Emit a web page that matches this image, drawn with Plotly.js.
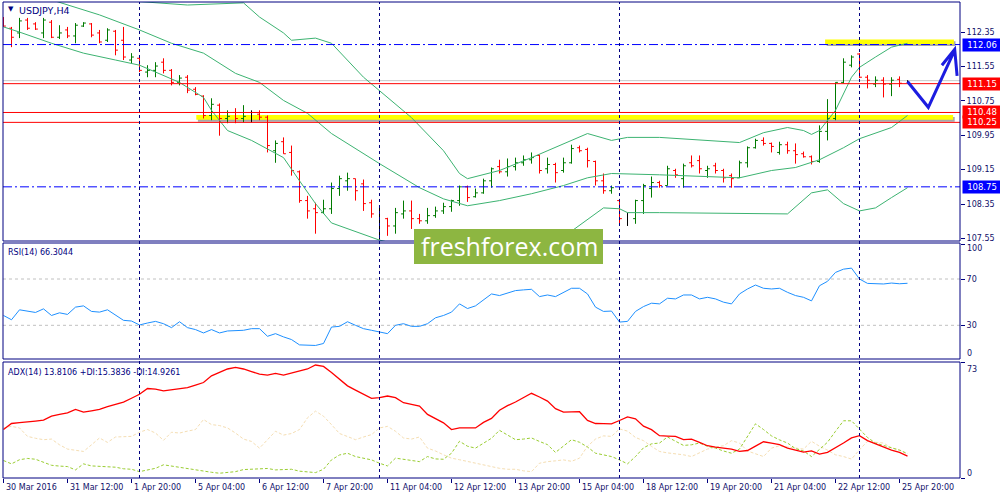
<!DOCTYPE html>
<html><head><meta charset="utf-8">
<script src="https://cdn.plot.ly/plotly-3.0.1.min.js"></script>
<style>html,body{margin:0;padding:0;background:#fff}#chart{width:1000px;height:500px}</style>
</head><body><div id="chart"></div>
<script>
// ---------- data ----------
const symbolTitle = 'USDJPY,H4';
const rsiTitle = 'RSI(14) 66.3044';
const adxTitle = 'ADX(14) 13.8106 +DI:15.3836 -DI:14.9261';
const timeLabels = ['30 Mar 2016','31 Mar 12:00','1 Apr 20:00','5 Apr 04:00','6 Apr 12:00','7 Apr 20:00','11 Apr 04:00','12 Apr 12:00','13 Apr 20:00','15 Apr 04:00','18 Apr 12:00','19 Apr 20:00','21 Apr 04:00','22 Apr 12:00','25 Apr 20:00'];
const timeLabelBars = [0,8,16,24,32,40,48,56,64,72,80,88,96,104,112];
const weekSeparatorBars = [17,47,77,107];

const openP = [112.68,112.44,112.33,112.63,112.54,112.33,112.58,112.23,112.40,112.26,
112.49,112.54,112.33,112.16,112.37,112.16,111.70,111.74,111.42,111.46,
111.65,111.46,111.18,111.30,111.02,110.86,110.41,110.65,110.34,110.48,
110.34,110.39,110.44,110.37,109.59,109.80,109.55,109.10,108.43,108.24,
108.15,108.24,108.71,108.89,108.94,108.82,108.38,108.01,108.01,107.84,
108.12,108.19,108.01,107.96,108.08,108.19,108.29,108.43,108.75,108.52,
108.61,108.89,109.22,109.10,109.22,109.31,109.38,109.48,109.17,109.27,
109.13,109.31,109.66,109.62,109.34,108.89,108.66,108.43,108.01,108.01,
108.43,108.71,108.85,108.78,109.13,108.94,109.31,109.36,109.13,109.24,
109.13,109.01,108.96,109.31,109.66,109.83,109.76,109.55,109.73,109.59,
109.52,109.45,109.34,110.04,110.34,111.18,111.58,111.84,111.30,111.14,
111.23,111.14,111.25,111.20];
const highP = [112.70,112.47,112.68,112.68,112.58,112.68,112.63,112.51,112.47,112.56,
112.58,112.56,112.40,112.44,112.40,112.47,111.86,111.81,111.58,111.65,
111.74,111.49,111.35,111.35,111.07,110.88,110.81,110.69,110.53,110.58,
110.65,110.53,110.53,110.41,109.83,109.90,109.71,109.13,108.54,108.38,
108.45,108.85,109.01,109.08,108.94,108.92,108.45,108.31,108.03,108.26,
108.43,108.43,108.12,108.26,108.29,108.38,108.45,108.78,108.78,108.71,
108.94,109.20,109.38,109.41,109.43,109.48,109.55,109.50,109.43,109.31,
109.43,109.73,109.71,109.66,109.36,109.06,108.78,108.47,108.15,108.45,
108.82,108.99,108.89,109.24,109.17,109.29,109.48,109.48,109.24,109.31,
109.17,109.06,109.36,109.69,109.87,109.90,109.78,109.80,109.80,109.76,
109.57,109.48,110.18,110.79,111.18,111.74,111.81,111.86,111.35,111.32,
111.30,111.30,111.32,111.23];
const lowP = [112.47,112.00,112.21,112.40,112.40,112.21,112.21,112.19,112.21,112.09,
112.47,112.23,112.09,112.12,111.81,111.70,111.63,111.42,111.30,111.30,
111.39,111.11,111.11,110.93,110.88,110.34,110.30,109.94,110.23,110.23,
110.25,110.25,110.30,109.55,109.31,109.52,109.01,108.38,108.01,107.66,
108.12,108.12,108.54,108.66,108.43,108.19,108.03,107.52,107.61,107.66,
108.01,107.77,107.89,107.89,108.03,108.12,108.17,108.31,108.40,108.50,
108.59,108.73,109.06,108.99,109.13,109.24,109.29,109.06,109.06,108.85,
109.08,109.29,109.55,109.20,108.78,108.59,108.59,107.89,107.84,107.89,
108.12,108.50,108.73,108.78,108.96,108.73,109.20,109.06,108.96,109.06,
108.85,108.73,108.96,109.20,109.64,109.71,109.55,109.50,109.52,109.29,
109.43,109.27,109.31,109.83,110.30,111.16,111.53,111.28,111.04,111.07,
110.83,110.86,111.07,111.18];
const closeP = [112.49,112.23,112.61,112.44,112.42,112.63,112.23,112.33,112.26,112.51,
112.56,112.28,112.12,112.40,111.93,111.77,111.77,111.46,111.46,111.56,
111.46,111.18,111.28,111.00,110.90,110.41,110.67,110.34,110.39,110.34,
110.39,110.39,110.37,109.71,109.76,109.52,109.13,108.43,108.19,108.15,
108.24,108.71,108.94,108.94,108.66,108.36,108.12,108.01,107.84,108.15,
108.19,108.01,107.96,108.08,108.19,108.29,108.43,108.75,108.50,108.61,
108.89,109.17,109.10,109.22,109.31,109.38,109.43,109.13,109.27,109.08,
109.31,109.64,109.59,109.36,108.89,108.66,108.73,108.01,108.01,108.43,
108.78,108.85,108.78,109.17,109.03,109.24,109.24,109.17,109.17,109.13,
108.96,108.94,109.31,109.66,109.83,109.76,109.69,109.73,109.59,109.50,
109.45,109.34,110.04,110.34,111.18,111.65,111.77,111.30,111.23,111.23,
111.14,111.23,111.16,111.20];

const bbUpperBars = [17,23,30,32,35,36,39,41,45,51,55,57,58,62,66,70,73,76,78,82,92,95,98,100,101,102,104,106,107,109,111,113];
const bbUpper = [113.06,112.98,113.03,112.70,112.33,112.16,112.21,112.09,111.30,110.36,109.59,109.06,108.94,109.13,109.43,109.76,109.99,109.83,109.90,109.90,109.78,110.01,110.13,110.06,109.97,110.06,110.53,111.30,111.53,111.77,112.00,112.09];
const bbMiddleBars = [6,12,17,21,25,29,32,35,38,41,47,52,55,58,62,66,70,73,76,82,92,96,99,102,105,107,111,113];
const bbMiddle = [113.10,112.75,112.40,112.09,111.86,111.39,111.18,110.76,110.46,109.99,109.29,108.73,108.47,108.31,108.43,108.59,108.78,108.96,109.06,109.03,108.96,109.13,109.20,109.38,109.66,109.87,110.13,110.41];
const bbLowerBars = [0,2,6,10,14,17,22,25,26,28,31,35,37,39,41,47,52,60,66,71,75,77,78,82,98,101,103,105,107,109,111,113];
const bbLower = [112.47,112.35,112.09,111.86,111.70,111.58,111.18,110.83,110.53,110.06,109.83,109.43,108.89,108.36,107.91,107.51,107.30,107.20,107.40,107.72,108.26,108.24,108.15,108.15,108.12,108.61,108.68,108.36,108.19,108.26,108.50,108.73];

const rsi = [38.5,34.8,43.4,42.3,41.1,44.2,38.5,40.8,39.4,45.7,
46.8,42.0,41.4,43.4,38.5,34.3,33.7,30.3,32.0,33.4,
31.4,28.0,33.1,28.0,26.3,23.4,26.3,23.4,25.1,25.7,
25.7,27.1,27.1,20.5,22.8,20.0,17.7,13.1,12.6,12.6,
14.3,28.5,29.1,33.1,30.0,27.1,25.7,24.0,22.8,30.0,
31.4,29.1,29.1,31.4,36.5,38.5,41.4,48.5,44.5,46.8,
51.9,57.1,55.7,57.7,60.0,60.6,61.1,54.8,56.2,54.8,
58.5,62.0,62.0,57.1,45.7,42.0,42.3,32.8,33.4,42.0,
46.2,49.1,48.5,53.4,52.8,56.2,56.2,52.8,54.2,52.8,
50.0,48.5,57.1,61.4,64.8,62.0,61.4,62.0,58.5,55.7,
54.2,51.1,64.2,68.0,75.7,78.5,79.4,70.0,66.2,65.7,
65.7,66.5,65.9,66.3];
const adx = [30.5,34.3,34.8,35.1,35.8,36.4,38.9,40.0,41.0,43.2,
41.5,42.3,43.2,44.9,46.3,47.8,50.2,52.7,56.3,55.9,
54.8,55.4,56.1,56.9,58.5,60.1,64.3,66.5,68.6,69.6,
68.6,67.0,65.4,64.7,65.8,64.7,66.0,67.3,68.6,71.1,
70.2,66.4,62.0,58.0,55.3,52.7,50.1,50.6,51.6,50.6,
47.4,46.3,45.3,40.0,37.2,34.7,30.5,31.5,31.5,31.5,
35.0,37.5,42.6,45.5,47.8,50.5,53.3,51.0,48.4,43.6,
41.5,41.6,41.7,36.2,34.3,34.2,34.1,36.2,38.5,37.2,
32.6,30.4,26.6,26.4,26.2,24.1,24.5,22.4,20.3,19.4,
18.9,18.2,16.7,17.3,20.1,22.8,22.0,21.0,18.8,17.5,
16.3,17.1,15.0,16.1,18.8,22.0,25.2,26.6,23.5,21.5,
19.9,17.5,16.1,13.8];
const plusDI = [11.0,8.9,11.5,12.3,11.8,9.7,8.0,7.5,7.2,5.1,
8.9,7.6,7.3,7.1,6.8,5.8,5.5,4.0,5.0,6.1,
8.3,7.5,6.8,5.8,5.1,4.0,3.6,3.0,3.5,4.0,
5.3,5.5,6.1,6.0,5.1,5.3,5.5,4.3,4.0,3.4,
5.5,11.4,14.5,15.6,13.5,12.5,11.4,9.3,7.6,12.5,
11.8,11.4,10.3,13.5,12.0,11.8,15.6,23.1,20.0,18.8,
22.0,25.0,30.0,27.0,24.1,24.5,25.2,23.0,21.0,16.1,
20.0,24.1,22.5,19.5,15.6,14.5,13.5,11.4,8.9,13.5,
19.0,21.5,22.0,25.8,23.1,20.5,20.9,22.0,19.9,18.8,
17.0,15.6,18.2,26.2,34.1,30.5,26.5,24.0,22.0,18.5,
17.0,13.5,18.0,22.5,29.4,36.0,36.0,30.5,25.5,22.0,
20.3,19.0,17.5,15.4];
const minusDI = [31.5,32.5,31.5,26.2,25.0,24.1,24.5,20.9,18.2,17.5,
16.7,20.9,25.2,22.4,25.8,26.0,26.2,28.8,30.5,28.3,
23.7,28.8,28.3,29.5,30.5,36.8,33.6,33.0,31.5,28.3,
24.5,23.0,18.8,24.1,29.4,27.0,28.0,30.5,37.9,42.1,
38.9,33.6,28.0,26.1,24.1,25.8,27.3,31.5,32.5,29.4,
25.2,24.5,25.8,18.8,17.0,14.6,12.5,11.5,10.4,9.5,
8.3,7.2,6.1,5.5,5.5,4.5,4.0,9.3,10.3,10.8,
11.4,10.5,12.5,20.0,24.5,26.5,26.2,30.9,29.5,25.5,
23.5,19.9,16.7,15.8,15.2,14.6,13.5,16.1,18.2,19.5,
20.3,23.5,22.0,17.0,15.0,13.5,18.8,20.3,19.5,19.0,
18.2,23.1,20.0,17.5,14.6,13.5,11.9,17.8,23.1,22.5,
22.0,19.0,17.8,14.9];

const priceTicks = [112.35,111.55,110.75,109.95,109.15,108.35,107.55];
const blueLevels = [112.06,108.75];
const redLevels = [111.15,110.48,110.25];
const bidLevel = 111.22;
const rsiLevels = [70,30];
const supportZone = [110.31,110.42];
const targetZone = [112.07,112.18];

// ---------- drawing ----------
const NAVY = '#000080';
const TXT = '#10106a';
const FONT = 'DejaVu Sans';
const PX0 = 3, PX1 = 960, PY0 = 2, PY1 = 478;
const px = v => (v - PX0) / (PX1 - PX0);
const py = v => (PY1 - v) / (PY1 - PY0);

const idx = openP.map((_, i) => i);
const colIdx = idx.filter(i => openP[i] !== closeP[i]);
const dojiIdx = idx.filter(i => openP[i] === closeP[i]);
let minGap = Infinity;
for (let k = 1; k < dojiIdx.length; k++) minGap = Math.min(minGap, dojiIdx[k] - dojiIdx[k-1]);
const pick = (arr, ids) => ids.map(i => arr[i]);

const traces = [
  {type:'scatter', mode:'lines', x:bbUpperBars, y:bbUpper, line:{color:'#3cb371', width:1}, hoverinfo:'skip', xaxis:'x', yaxis:'y'},
  {type:'scatter', mode:'lines', x:bbMiddleBars, y:bbMiddle, line:{color:'#3cb371', width:1}, hoverinfo:'skip', xaxis:'x', yaxis:'y'},
  {type:'scatter', mode:'lines', x:bbLowerBars, y:bbLower, line:{color:'#3cb371', width:1}, hoverinfo:'skip', xaxis:'x', yaxis:'y'},
  {type:'ohlc', x:colIdx, open:pick(openP,colIdx), high:pick(highP,colIdx), low:pick(lowP,colIdx), close:pick(closeP,colIdx),
   increasing:{line:{color:'#007a00', width:1}}, decreasing:{line:{color:'#ff0000', width:1}}, tickwidth:0.3, hoverinfo:'skip', xaxis:'x', yaxis:'y'},
  {type:'ohlc', x:dojiIdx, open:pick(openP,dojiIdx), high:pick(highP,dojiIdx), low:pick(lowP,dojiIdx), close:pick(closeP,dojiIdx),
   increasing:{line:{color:'#000000', width:1}}, decreasing:{line:{color:'#000000', width:1}}, tickwidth:Math.min(0.5, 0.3/minGap), hoverinfo:'skip', xaxis:'x', yaxis:'y'},
  {type:'scatter', mode:'lines', x:idx, y:rsi, line:{color:'#1e90ff', width:1}, hoverinfo:'skip', xaxis:'x', yaxis:'y2'},
  {type:'scatter', mode:'lines', x:idx, y:minusDI, line:{color:'#f5deb3', width:1, dash:'3px,2px'}, hoverinfo:'skip', xaxis:'x', yaxis:'y3'},
  {type:'scatter', mode:'lines', x:idx, y:plusDI, line:{color:'#9acd32', width:1, dash:'3px,2px'}, hoverinfo:'skip', xaxis:'x', yaxis:'y3'},
  {type:'scatter', mode:'lines', x:idx, y:adx, line:{color:'#ff0000', width:1.3}, hoverinfo:'skip', xaxis:'x', yaxis:'y3'}
];

const dMain = [py(241), 1], dRsi = [py(359), py(243)], dAdx = [0, py(362)];
const shapes = [];
// yellow zones with shadow
shapes.push({type:'rect', xref:'x', yref:'y', x0:24.3, x1:118.9, y0:supportZone[0]-0.045, y1:supportZone[1]-0.045, fillcolor:'#a8a8a8', line:{width:0}, layer:'below'});
shapes.push({type:'rect', xref:'x', yref:'y', x0:24.1, x1:118.7, y0:supportZone[0], y1:supportZone[1], fillcolor:'#ffff00', line:{width:0}, layer:'below'});
shapes.push({type:'rect', xref:'x', yref:'y', x0:102.9, x1:119.0, y0:targetZone[0]-0.045, y1:targetZone[1]-0.045, fillcolor:'#a8a8a8', line:{width:0}, layer:'below'});
shapes.push({type:'rect', xref:'x', yref:'y', x0:102.7, x1:118.8, y0:targetZone[0], y1:targetZone[1], fillcolor:'#ffff00', line:{width:0}, layer:'below'});
// bid line
shapes.push({type:'line', xref:'paper', yref:'y', x0:0, x1:1, y0:bidLevel, y1:bidLevel, line:{color:'#c8c8c8', width:1}, layer:'below'});
redLevels.forEach(v => shapes.push({type:'line', xref:'paper', yref:'y', x0:0, x1:1, y0:v, y1:v, line:{color:'#ff0000', width:1}, layer:'above'}));
blueLevels.forEach(v => shapes.push({type:'line', xref:'paper', yref:'y', x0:0, x1:1, y0:v, y1:v, line:{color:'#0000ff', width:1, dash:'9px,3px,2px,3px'}, layer:'above'}));
rsiLevels.forEach(v => shapes.push({type:'line', xref:'paper', yref:'y2', x0:0, x1:1, y0:v, y1:v, line:{color:'#c0c0c0', width:1, dash:'3px,3px'}, layer:'below'}));
weekSeparatorBars.forEach(b => shapes.push({type:'line', xref:'x', yref:'paper', x0:b, x1:b, y0:0, y1:1, line:{color:NAVY, width:1, dash:'3px,3px'}, layer:'above'}));
// panel frames
[dMain, dRsi, dAdx].forEach(d => shapes.push({type:'rect', xref:'paper', yref:'paper', x0:0, x1:1, y0:d[0], y1:d[1], line:{color:NAVY, width:1}, fillcolor:'rgba(0,0,0,0)', layer:'above'}));
// forecast arrow
shapes.push({type:'path', xref:'x', yref:'y', path:'M113,111.20 L115.6,110.60 L118.9,111.93 M117.3,111.58 L118.9,111.95 L119.2,111.33', line:{color:'#1c1ce0', width:3}, layer:'above'});
// watermark
shapes.push({type:'rect', xref:'paper', yref:'paper', x0:px(414), x1:px(603), y0:py(264), y1:py(229), fillcolor:'#8db641', line:{width:0}, layer:'above'});

const annotations = [];
const smallFont = {family:FONT, size:8, color:TXT};
annotations.push({xref:'paper', yref:'paper', x:px(6), y:py(9), text:'▼', showarrow:false, xanchor:'left', yanchor:'middle', font:{family:FONT, size:7, color:NAVY}});
annotations.push({xref:'paper', yref:'paper', x:px(17), y:py(10), text:symbolTitle, showarrow:false, xanchor:'left', yanchor:'middle', font:{family:FONT, size:9.5, color:NAVY}});
annotations.push({xref:'paper', yref:'paper', x:px(6), y:py(252), text:rsiTitle, showarrow:false, xanchor:'left', yanchor:'middle', font:{family:FONT, size:8, color:NAVY}});
annotations.push({xref:'paper', yref:'paper', x:px(6), y:py(372), text:adxTitle, showarrow:false, xanchor:'left', yanchor:'middle', font:{family:FONT, size:8, color:NAVY}});
timeLabels.forEach((t, k) => annotations.push({xref:'x', yref:'paper', x:timeLabelBars[k], y:py(488), text:t, showarrow:false, xanchor:'left', yanchor:'middle', xshift:0, font:smallFont}));
[['100', 249], ['0', 353], ['73', 369], ['0', 473]].forEach(a => annotations.push({xref:'paper', yref:'paper', x:1, y:py(a[1]), text:a[0], showarrow:false, xanchor:'left', yanchor:'middle', xshift:5, font:smallFont}));
blueLevels.forEach(v => annotations.push({xref:'paper', yref:'y', x:1, y:v, text:v.toFixed(2), showarrow:false, xanchor:'left', yanchor:'middle', xshift:2, width:36, bgcolor:'#0000ff', borderpad:1, font:{family:FONT, size:8.5, color:'#ffffff'}}));
redLevels.forEach(v => annotations.push({xref:'paper', yref:'y', x:1, y:v, text:v.toFixed(2), showarrow:false, xanchor:'left', yanchor:'middle', xshift:2, width:36, bgcolor:'#ff0000', borderpad:1, font:{family:FONT, size:8.5, color:'#ffffff'}}));
annotations.push({xref:'paper', yref:'paper', x:px(509), y:py(246), text:'freshforex.com', showarrow:false, xanchor:'center', yanchor:'middle', font:{family:'Open Sans', size:25, color:'#ffffff'}});

const yCommon = {side:'right', showgrid:false, zeroline:false, showline:false, ticks:'outside', ticklen:4, tickcolor:NAVY, tickfont:smallFont, fixedrange:true, anchor:'x'};
const barPx = 8, halfPx = 0.5 / barPx;
const layout = {
  width:1000, height:500, paper_bgcolor:'#ffffff', plot_bgcolor:'#ffffff',
  margin:{l:3, r:40, t:2, b:22}, showlegend:false, hovermode:false, dragmode:false,
  xaxis:{type:'linear', range:[-halfPx, (PX1-PX0)/barPx - halfPx], showgrid:false, zeroline:false, showline:false, ticks:'outside', ticklen:4, tickcolor:NAVY,
         tickvals:timeLabelBars, showticklabels:false, anchor:'y3', rangeslider:{visible:false}, fixedrange:true},
  yaxis:Object.assign({}, yCommon, {domain:dMain, range:[107.49, 113.05], tickvals:priceTicks, ticktext:priceTicks.map(v=>v.toFixed(2))}),
  yaxis2:Object.assign({}, yCommon, {domain:dRsi, range:[0.9, 101.1], tickvals:[100,70,30], ticktext:['','70','30']}),
  yaxis3:Object.assign({}, yCommon, {domain:dAdx, range:[0, 73], tickvals:[73,0], ticktext:['','']}),
  shapes:shapes, annotations:annotations
};
Plotly.newPlot('chart', traces, layout, {staticPlot:true, displayModeBar:false});
</script></body></html>
